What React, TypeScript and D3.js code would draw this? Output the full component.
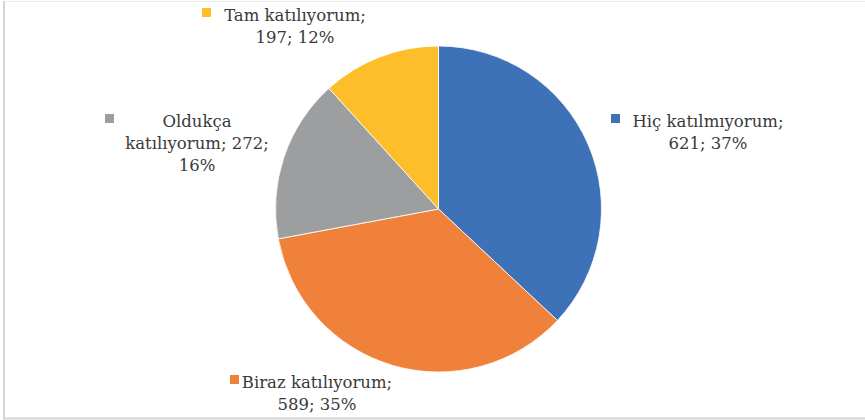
import React from 'react';
import * as d3 from 'd3';

const categories = ['Hiç katılmıyorum', 'Biraz katılıyorum', 'Oldukça katılıyorum', 'Tam katılıyorum'];
const values = [621, 589, 272, 197];
const percents = ['37%', '35%', '16%', '12%'];
const colors = ['#3D71B8', '#F0813A', '#9C9E9F', '#FDBE2A'];

// label boxes: text lines centred at cx, first baseline at y, marker left of the first line
const labelLayout = [
  { cx: 708, y: 127, mx: 611, lines: (i: number) => [`${categories[i]};`, `${values[i]}; ${percents[i]}`] },
  { cx: 317, y: 388, mx: 230, lines: (i: number) => [`${categories[i]};`, `${values[i]}; ${percents[i]}`] },
  { cx: 197, y: 127, mx: 105, lines: (i: number) => ['Oldukça', `katılıyorum; ${values[i]};`, percents[i]] },
  { cx: 295, y: 21, mx: 202, lines: (i: number) => [`${categories[i]};`, `${values[i]}; ${percents[i]}`] },
];

const W = 865;
const H = 420;
const cx = 438.5;
const cy = 209;
const R = 163;

export default function App() {
  const pie = d3.pie<number>().sort(null).value(d => d)(values);
  const arc = d3.arc<d3.PieArcDatum<number>>().innerRadius(0).outerRadius(R);

  return (
    <svg width={W} height={H} style={{ position: 'absolute', left: 0, top: 0, background: '#fff' }}>
      <line x1={3} y1={1.5} x2={W} y2={1.5} stroke="#eeeeee" strokeWidth={1} />
      <line x1={4} y1={1} x2={4} y2={419} stroke="#d4d4d4" strokeWidth={2} />
      <line x1={3} y1={418.5} x2={W} y2={418.5} stroke="#d4d4d4" strokeWidth={2} />
      <g transform={`translate(${cx},${cy})`}>
        {pie.map((p, i) => (
          <path key={i} d={arc(p) || ''} fill={colors[i]} stroke="#fff" strokeWidth={0.8} />
        ))}
      </g>
      {labelLayout.map((l, i) => {
        const lines = l.lines(i);
        return (
          <g key={i} fontFamily="'DejaVu Serif', serif" fontSize={16.5} fill="#3a3a3a">
            <rect x={l.mx} y={l.y - 13} width={9} height={9} fill={colors[i]} />
            {lines.map((t, j) => (
              <text key={j} x={l.cx} y={l.y + j * 22} textAnchor="middle">{t}</text>
            ))}
          </g>
        );
      })}
    </svg>
  );
}
